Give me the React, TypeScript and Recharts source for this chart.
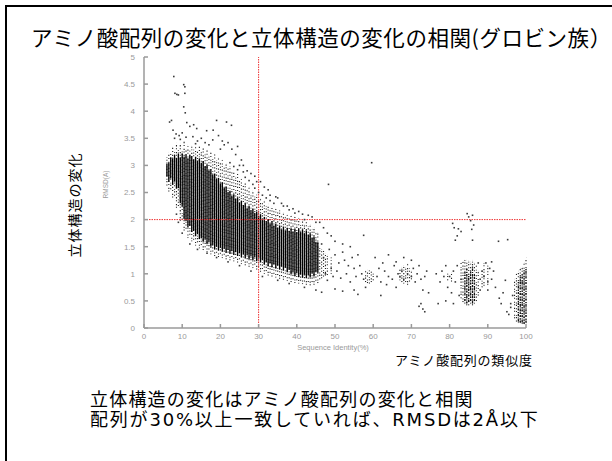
import React from 'react';
import { ScatterChart, Scatter, XAxis, YAxis, ErrorBar, ReferenceLine } from 'recharts';

const xTicks = [0, 10, 20, 30, 40, 50, 60, 70, 80, 90, 100];
const yTicks = [0, 0.5, 1, 1.5, 2, 2.5, 3, 3.5, 4, 4.5, 5];
const identityThreshold = 30;
const rmsdThreshold = 2;

// main cloud, per identity column: [identity, sparseLow, denseLow, denseHigh, sparseHigh]
const coreBand = [
  [6, 2.63, 2.79, 3.03, 3.15], [6.5, 2.52, 2.7, 3.05, 3.24], [7, 2.56, 2.76, 3.15, 3.22],
  [7.5, 2.41, 2.64, 3.13, 3.34], [8, 2.44, 2.7, 3.19, 3.29], [8.5, 2.22, 2.57, 3.14, 3.42],
  [9, 2.25, 2.58, 3.21, 3.33], [9.5, 1.98, 2.3, 3.15, 3.41], [10, 2.0, 2.24, 3.22, 3.31],
  [10.5, 1.8, 2.01, 3.16, 3.44], [11, 1.83, 1.97, 3.2, 3.3], [11.5, 1.66, 1.86, 3.13, 3.38],
  [12, 1.72, 1.88, 3.19, 3.27], [12.5, 1.6, 1.77, 3.17, 3.36], [13, 1.63, 1.79, 3.11, 3.29],
  [13.5, 1.52, 1.7, 3.16, 3.34], [14, 1.58, 1.73, 3.09, 3.26], [14.5, 1.47, 1.64, 3.13, 3.35],
  [15, 1.53, 1.66, 3.05, 3.25], [15.5, 1.44, 1.59, 3.08, 3.31], [16, 1.49, 1.63, 2.99, 3.22],
  [16.5, 1.4, 1.55, 3.01, 3.28], [17, 1.45, 1.58, 2.91, 3.18], [17.5, 1.36, 1.5, 2.93, 3.24],
  [18, 1.41, 1.53, 2.83, 3.15], [18.5, 1.33, 1.45, 2.85, 3.2], [19, 1.39, 1.5, 2.75, 3.09],
  [19.5, 1.31, 1.43, 2.77, 3.14], [20, 1.37, 1.48, 2.67, 3.05], [20.5, 1.29, 1.41, 2.69, 3.1],
  [21, 1.35, 1.46, 2.59, 2.99], [21.5, 1.27, 1.39, 2.61, 3.04], [22, 1.33, 1.44, 2.51, 2.94],
  [22.5, 1.25, 1.37, 2.53, 2.98], [23, 1.31, 1.42, 2.44, 2.87], [23.5, 1.23, 1.35, 2.47, 2.91],
  [24, 1.29, 1.4, 2.38, 2.79], [24.5, 1.21, 1.33, 2.41, 2.84], [25, 1.27, 1.38, 2.32, 2.71],
  [25.5, 1.18, 1.31, 2.35, 2.75], [26, 1.24, 1.36, 2.27, 2.63], [26.5, 1.16, 1.29, 2.3, 2.67],
  [27, 1.21, 1.34, 2.21, 2.55], [27.5, 1.13, 1.27, 2.25, 2.6], [28, 1.19, 1.32, 2.17, 2.49],
  [28.5, 1.11, 1.25, 2.2, 2.53], [29, 1.17, 1.3, 2.12, 2.42], [29.5, 1.08, 1.23, 2.15, 2.46],
  [30, 1.13, 1.28, 2.07, 2.35], [30.5, 1.04, 1.21, 2.1, 2.39], [31, 1.09, 1.25, 2.02, 2.3],
  [31.5, 1.0, 1.17, 2.05, 2.34], [32, 1.05, 1.21, 1.97, 2.25], [32.5, 0.97, 1.14, 2.01, 2.29],
  [33, 1.02, 1.19, 1.93, 2.21], [33.5, 0.95, 1.12, 1.97, 2.25], [34, 1.0, 1.17, 1.89, 2.17],
  [34.5, 0.93, 1.1, 1.93, 2.21], [35, 0.98, 1.15, 1.85, 2.13], [35.5, 0.91, 1.08, 1.89, 2.17],
  [36, 0.96, 1.13, 1.82, 2.09], [36.5, 0.89, 1.06, 1.87, 2.13], [37, 0.94, 1.11, 1.8, 2.05],
  [37.5, 0.87, 1.03, 1.85, 2.09], [38, 0.92, 1.07, 1.79, 2.02], [38.5, 0.85, 0.99, 1.84, 2.07],
  [39, 0.9, 1.03, 1.78, 2.0], [39.5, 0.83, 0.96, 1.83, 2.05], [40, 0.88, 1.01, 1.77, 1.98],
  [40.5, 0.82, 0.94, 1.83, 2.03], [41, 0.87, 0.99, 1.77, 1.95], [41.5, 0.81, 0.93, 1.82, 1.99],
  [42, 0.86, 0.98, 1.75, 1.91], [42.5, 0.8, 0.92, 1.8, 1.95], [43, 0.85, 0.98, 1.72, 1.87],
  [43.5, 0.79, 0.93, 1.75, 1.91], [44, 0.85, 1.0, 1.67, 1.82], [44.5, 0.8, 0.95, 1.69, 1.85],
  [45, 0.87, 1.03, 1.59, 1.75], [45.5, 0.83, 1.02, 1.58, 1.76],
];

// tail columns, medium density: [identity, low, high]
const tailBandLight = [
  [46, 0.9, 1.5], [46.5, 0.92, 1.45], [47, 0.95, 1.42], [47.5, 0.97, 1.38], [48, 0.98, 1.35],
  [49, 1.0, 1.3], [58, 0.85, 1.05], [58.5, 0.83, 1.07], [59, 0.82, 1.06], [59.5, 0.85, 1.04],
  [60, 0.88, 1.0], [67, 0.88, 1.08], [67.5, 0.85, 1.12], [68, 0.82, 1.15], [68.5, 0.85, 1.12],
  [69, 0.8, 1.18], [69.5, 0.86, 1.1], [70, 0.9, 1.05], [79.5, 0.88, 1.0], [80.5, 0.86, 1.02],
  [83, 0.55, 1.2], [83.5, 0.48, 1.22], [84, 0.45, 1.25], [84.5, 0.42, 1.25], [85, 0.42, 1.24],
  [85.5, 0.45, 1.22], [86, 0.42, 1.25], [86.5, 0.45, 1.2], [87, 0.5, 1.15], [87.5, 0.6, 1.05],
  [88.5, 0.75, 1.05], [89, 0.78, 1.2], [90, 0.8, 1.15], [97, 0.18, 0.9], [97.5, 0.12, 1.0],
  [98, 0.1, 1.05], [98.5, 0.1, 1.1], [99, 0.08, 1.12], [99.5, 0.08, 1.2], [100, 0.1, 1.3],
];

// tail columns, high density: [identity, low, high]
const tailBandDense = [
  [84, 0.5, 1.05], [84.5, 0.45, 1.1], [85, 0.48, 1.0], [85.5, 0.5, 1.05], [86, 0.45, 1.15],
  [86.5, 0.5, 1.0], [98, 0.12, 0.85], [98.5, 0.1, 0.95], [99, 0.1, 1.0], [99.5, 0.08, 1.05],
  [100, 0.1, 1.1],
];

// isolated pairs: [identity, rmsd]
const scatteredPoints = [
  [7.8, 4.64], [10.4, 4.49], [10.7, 4.45], [8.1, 4.33], [8.6, 4.31], [9.0, 4.3], [10.7, 4.33],
  [10.4, 4.08], [10.8, 3.97], [6.7, 3.8], [7.2, 3.83], [11.2, 3.79], [12.0, 3.72], [13.0, 3.75],
  [13.8, 3.68], [19.0, 3.83], [16.4, 3.64], [18.1, 3.65], [21.6, 3.8], [22.9, 3.74], [7.6, 3.65],
  [8.4, 3.58], [9.2, 3.55], [10.0, 3.6], [11.0, 3.52], [9.5, 3.48], [8.0, 3.5], [12.8, 3.53],
  [14.0, 3.45], [15.0, 3.5], [16.0, 3.42], [17.0, 3.38], [18.0, 3.47], [13.5, 3.4], [19.5, 3.55],
  [20.5, 3.45], [21.0, 3.38], [22.0, 3.42], [20.0, 3.3], [23.0, 3.3], [24.0, 3.2], [24.5, 3.35],
  [25.5, 3.1], [26.0, 3.0], [27.0, 2.9], [28.0, 2.85], [29.0, 2.8], [30.5, 2.7], [31.5, 2.6],
  [32.5, 2.55], [33.0, 2.45], [35.0, 2.4], [36.0, 2.3], [37.5, 2.25], [39.0, 2.2], [40.5, 2.15],
  [41.5, 2.1], [44.0, 2.05], [46.0, 1.95], [47.0, 1.85], [48.0, 1.75], [49.0, 1.7], [50.0, 1.6],
  [52.0, 1.55], [54.0, 1.5], [22.5, 3.05], [23.5, 2.98], [24.5, 2.92], [25.0, 3.0], [26.0, 2.88],
  [26.5, 2.78], [27.5, 2.72], [28.5, 2.65], [29.0, 2.58], [29.5, 2.7], [30.0, 2.5], [31.0, 2.45],
  [32.0, 2.4], [33.0, 2.35], [34.0, 2.3], [34.5, 2.42], [36.5, 2.25], [38.0, 2.18], [39.5, 2.12],
  [42.0, 2.0], [43.0, 2.08], [45.0, 1.95], [48.3, 2.65], [59.6, 3.05],
  [8.5, 2.1], [9.0, 1.95], [10.0, 1.75], [12.0, 1.55], [14.0, 1.45], [16.5, 1.38], [19.0, 1.3],
  [22.0, 1.22], [25.0, 1.15], [28.0, 1.05], [31.0, 0.95], [35.0, 0.88], [38.0, 0.82], [42.0, 0.75],
  [45.0, 0.7], [46.5, 0.66],
  [46.5, 1.55], [47.0, 1.3], [47.5, 1.0], [48.0, 0.88], [48.5, 1.45], [49.0, 1.1], [49.5, 0.95],
  [50.0, 1.35], [50.5, 1.05], [51.0, 1.2], [51.5, 0.92], [52.0, 1.4], [52.5, 1.25], [53.0, 1.0],
  [53.5, 1.15], [54.0, 0.85], [54.5, 1.3], [55.0, 1.1], [55.5, 0.95], [56.0, 1.35], [56.5, 1.15],
  [57.0, 1.0], [57.5, 0.9], [50.0, 0.72], [52.0, 0.68], [55.0, 0.7], [56.0, 0.62], [57.5, 1.71],
  [58.0, 0.75], [60.5, 1.3], [61.0, 0.95], [61.5, 1.1], [62.0, 0.85], [62.5, 1.2], [63.0, 1.05],
  [63.5, 0.8], [64.0, 0.95], [65.0, 0.9], [65.5, 1.15], [66.0, 0.75], [64.0, 1.35], [62.0, 0.6],
  [66.5, 1.0], [67.0, 0.95], [67.5, 1.05], [68.0, 0.9], [69.0, 1.0], [70.0, 0.95], [70.5, 1.1],
  [71.0, 0.85], [71.5, 1.0], [72.0, 1.15], [72.5, 0.9], [73.0, 0.7], [73.5, 0.95], [74.0, 1.05],
  [74.5, 0.65], [72.5, 0.45], [73.0, 0.35], [73.5, 0.3], [72.0, 0.4], [68.0, 1.3], [70.0, 1.25],
  [66.0, 1.22], [76.5, 1.0], [77.5, 0.85], [78.0, 1.05], [78.5, 0.95], [79.0, 1.15], [79.5, 0.75],
  [80.0, 0.95], [80.5, 0.65], [81.0, 1.05], [81.5, 0.85], [82.0, 1.15], [82.5, 0.6], [83.0, 0.9],
  [77.0, 0.45], [79.0, 0.5], [81.0, 0.45], [80.8, 1.93], [81.2, 1.85], [81.5, 1.62], [82.0, 1.7],
  [82.3, 1.83], [83.0, 1.78], [84.6, 2.11], [85.0, 2.05], [85.5, 1.98], [86.0, 2.08], [86.3, 1.9],
  [85.8, 1.82], [86.0, 1.62], [92.8, 1.6], [95.2, 1.63], [87.5, 1.2], [88.0, 0.9], [88.5, 1.05],
  [89.0, 0.95], [89.5, 1.2], [90.0, 0.85], [90.5, 1.1], [91.0, 0.9], [91.5, 1.05], [92.0, 0.75],
  [88.0, 0.7], [90.0, 0.7], [93.0, 0.55], [93.5, 0.45], [94.0, 0.65], [94.6, 0.88], [95.0, 0.3],
  [95.5, 0.25], [96.0, 0.45], [96.0, 0.38], [96.5, 0.6], [91.0, 1.22],
];

const toRange = (x: number, lo: number, hi: number) => ({ x, y: lo, err: [0, hi - lo] });
const denseData = coreBand.map(([x, , lo, hi]) => toRange(x, lo, hi));
const sparseEven = coreBand.filter((_, i) => i % 2 === 0).map(([x, sLo, , , sHi]) => toRange(x, sLo, sHi));
const sparseOdd = coreBand.filter((_, i) => i % 2 === 1).map(([x, sLo, , , sHi]) => toRange(x, sLo, sHi));
const tailLightEven = tailBandLight.filter((_, i) => i % 2 === 0).map(([x, lo, hi]) => toRange(x, lo, hi));
const tailLightOdd = tailBandLight.filter((_, i) => i % 2 === 1).map(([x, lo, hi]) => toRange(x, lo, hi));
const tailDenseData = tailBandDense.map(([x, lo, hi]) => toRange(x, lo, hi));
const pointData = scatteredPoints.map(([x, y]) => ({ x, y }));

const hidden = () => <g />;
const dot = (p: any) => <rect x={p.cx - 0.8} y={p.cy - 0.8} width={1.6} height={1.6} fill="#3a3a3a" />;

const tickStyle = { fill: '#9a9a9a', fontSize: 8, fontFamily: '"Liberation Sans", Arial, sans-serif' };
const jp = '"Noto Sans CJK JP", sans-serif';
const patternA = '1 2.2 1.2 1.4 0.8 3 1 1.7';
const patternB = '0.9 1.6 1.1 2.8 1 1.9 1.3 2.4';

export default function App() {
  return (
    <div style={{ position: 'absolute', left: 0, top: 0, width: 612, height: 461, overflow: 'hidden', background: '#fff' }}>
      <ScatterChart width={612} height={461} margin={{ top: 57, right: 86, bottom: 113, left: 104 }}>
        <XAxis type="number" dataKey="x" domain={[0, 100]} ticks={xTicks} interval={0} allowDataOverflow
          height={20} tickSize={-4} tickMargin={9} stroke="#9a9a9a" strokeWidth={1.5} tick={tickStyle} />
        <YAxis type="number" dataKey="y" domain={[0, 5]} ticks={yTicks} interval={0} allowDataOverflow
          width={40} tickSize={-4} tickMargin={13} stroke="#9a9a9a" strokeWidth={1.5} tick={tickStyle} />
        <XAxis xAxisId="top" orientation="top" type="number" dataKey="x" domain={[0, 100]} ticks={xTicks}
          interval={0} allowDataOverflow height={0} tickSize={-4} tick={false} stroke="#9a9a9a" strokeWidth={1.5} />
        <YAxis yAxisId="right" orientation="right" type="number" dataKey="y" domain={[0, 5]} ticks={yTicks}
          interval={0} allowDataOverflow width={0} tickSize={-4} tick={false} stroke="#9a9a9a" strokeWidth={2} />
        <Scatter data={pointData} xAxisId="top" yAxisId="right" shape={hidden} isAnimationActive={false} />
        <Scatter data={sparseEven} shape={hidden} isAnimationActive={false}>
          <ErrorBar dataKey="err" direction="y" width={0} stroke="#222" strokeWidth={1.1}
            strokeDasharray={patternA} isAnimationActive={false} />
        </Scatter>
        <Scatter data={sparseOdd} shape={hidden} isAnimationActive={false}>
          <ErrorBar dataKey="err" direction="y" width={0} stroke="#222" strokeWidth={1.1}
            strokeDasharray={patternB} isAnimationActive={false} />
        </Scatter>
        <Scatter data={denseData} shape={hidden} isAnimationActive={false}>
          <ErrorBar dataKey="err" direction="y" width={0} stroke="#000" strokeWidth={1.35}
            isAnimationActive={false} />
        </Scatter>
        <Scatter data={tailLightEven} shape={hidden} isAnimationActive={false}>
          <ErrorBar dataKey="err" direction="y" width={0} stroke="#222" strokeWidth={1.1}
            strokeDasharray={patternA} isAnimationActive={false} />
        </Scatter>
        <Scatter data={tailLightOdd} shape={hidden} isAnimationActive={false}>
          <ErrorBar dataKey="err" direction="y" width={0} stroke="#222" strokeWidth={1.1}
            strokeDasharray={patternB} isAnimationActive={false} />
        </Scatter>
        <Scatter data={tailDenseData} shape={hidden} isAnimationActive={false}>
          <ErrorBar dataKey="err" direction="y" width={0} stroke="#111" strokeWidth={1.3}
            strokeDasharray="2 1 1 1.5" isAnimationActive={false} />
        </Scatter>
        <Scatter data={pointData} shape={dot} isAnimationActive={false} />
        <ReferenceLine x={identityThreshold} stroke="#ee3333" strokeWidth={1} strokeDasharray="1.5 1" />
        <ReferenceLine y={rmsdThreshold} stroke="#ee3333" strokeWidth={1} strokeDasharray="1.5 1" />
      </ScatterChart>

      <div style={{ position: 'absolute', left: 5, top: 5, width: 2, height: 456, background: '#000' }} />
      <div style={{ position: 'absolute', left: 5, top: 5, width: 607, height: 2, background: '#000' }} />

      <div style={{ position: 'absolute', left: 31, top: 25.5, fontFamily: jp, fontSize: 21.5, lineHeight: '22px', letterSpacing: 0.55, whiteSpace: 'nowrap', color: '#000' }}>
        アミノ酸配列の変化と立体構造の変化の相関(グロビン族）
      </div>

      <div style={{ position: 'absolute', left: 21, top: 197.5, width: 105, height: 14, transform: 'rotate(-90deg)', textAlign: 'center', fontFamily: jp, fontSize: 14, lineHeight: '14px', letterSpacing: 1, whiteSpace: 'nowrap', color: '#000' }}>
        立体構造の変化
      </div>

      <div style={{ position: 'absolute', left: 80, top: 181, width: 50, height: 7, transform: 'rotate(-90deg)', textAlign: 'center', fontFamily: '"Liberation Sans", Arial, sans-serif', fontSize: 6.5, lineHeight: '7px', whiteSpace: 'nowrap', color: '#9a9a9a' }}>
        RMSD(A)
      </div>

      <div style={{ position: 'absolute', left: 283, top: 343, width: 100, textAlign: 'center', fontFamily: '"Liberation Sans", Arial, sans-serif', fontSize: 7.5, lineHeight: '9px', whiteSpace: 'nowrap', color: '#9a9a9a' }}>
        Sequence Identity(%)
      </div>

      <div style={{ position: 'absolute', left: 395, top: 352.5, fontFamily: jp, fontSize: 13, lineHeight: '13px', letterSpacing: 0.8, whiteSpace: 'nowrap', color: '#000' }}>
        アミノ酸配列の類似度
      </div>

      <div style={{ position: 'absolute', left: 90, top: 389, fontFamily: jp, fontSize: 18, lineHeight: '18px', letterSpacing: 1.2, whiteSpace: 'nowrap', color: '#000' }}>
        立体構造の変化はアミノ酸配列の変化と相関
      </div>
      <div style={{ position: 'absolute', left: 90, top: 411, fontFamily: '"DejaVu Sans", "Noto Sans CJK JP", sans-serif', fontSize: 18, lineHeight: '18px', letterSpacing: 1.8, whiteSpace: 'nowrap', color: '#000' }}>
        配列が30%以上一致していれば、RMSDは2Å以下
      </div>
    </div>
  );
}
